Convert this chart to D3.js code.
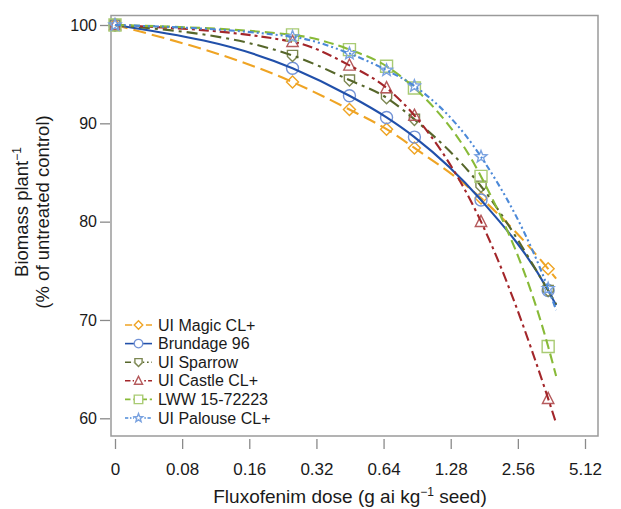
<!DOCTYPE html>
<html>
<head>
<meta charset="utf-8">
<script src="https://cdn.jsdelivr.net/npm/d3@7"></script>
<style>
  html, body { margin: 0; padding: 0; background: #fff; }
  svg { display: block; font-family: "Liberation Sans", Arial, sans-serif; }
</style>
</head>
<body>
<svg id="chart" width="621" height="509"></svg>
<script>
// Fluxofenim doses (g ai per kg seed); 0 is the untreated control
const doses = [0, 0.25, 0.45, 0.66, 0.88, 1.75, 3.5];
const curveEndDose = 3.8;

// Biomass per plant, % of untreated control
const magic    = [100, 94.2, 91.4, 89.4, 87.5, 82.4, 75.2];
const brundage = [100, 95.6, 92.8, 90.6, 88.6, 82.2, 73.0];
const sparrow  = [100, 96.9, 94.4, 92.6, 90.4, 83.6, 73.0];
const castle   = [100, 98.3, 95.9, 93.6, 90.8, 80.0, 62.0];
const lww      = [100, 99.0, 97.5, 95.8, 93.6, 84.6, 67.3];
const palouse  = [100, 98.8, 97.1, 95.4, 93.8, 86.6, 73.2];

// Fitted curve value at the end of each line
const curveEnds = [74.2, 71.5, 71.6, 59.5, 64.3, 71.0];

const names = ["UI Magic CL+", "Brundage 96", "UI Sparrow", "UI Castle CL+", "LWW 15-72223", "UI Palouse CL+"];

const xTicks = [0.04, 0.08, 0.16, 0.32, 0.64, 1.28, 2.56, 5.12];
const xTickLabels = ["0", "0.08", "0.16", "0.32", "0.64", "1.28", "2.56", "5.12"];
const yTicks = [60, 70, 80, 90, 100];

const styles = [
  { line: "#EFA424", mark: "#EFA424", dash: "13,6",            shape: "diamond" },
  { line: "#2150AA", mark: "#7393D6", dash: null,              shape: "circle" },
  { line: "#56662A", mark: "#7C8752", dash: "11,5,3,5",        shape: "shield" },
  { line: "#A3262A", mark: "#B55A5C", dash: "10,4,3,4",        shape: "triangle" },
  { line: "#88BA38", mark: "#A9CB73", dash: "10,5",            shape: "square" },
  { line: "#4C89D8", mark: "#7BA3E0", dash: "6,3,2,3,2,3",     shape: "star" }
];

const seriesValues = [magic, brundage, sparrow, castle, lww, palouse];
const series = names.map((name, i) => ({
  name,
  style: styles[i],
  points: doses.map((d, j) => ({ dose: d, value: seriesValues[i][j] })),
  end: { dose: curveEndDose, value: curveEnds[i] }
}));

const svg = d3.select("#chart");

const frame = { left: 111, right: 598, top: 15.5, bottom: 436 };

// log2 dose axis; the control (dose 0) sits at the first tick
const xLog = d3.scaleLog().base(2).domain([0.04, 5.12]).range([115, 585]);
const xPos = d => (d === 0 ? xLog(0.04) : xLog(d));
const y = d3.scaleLinear().domain([60, 100]).range([418.3, 25]);

// plot frame
svg.append("rect")
  .attr("x", frame.left).attr("y", frame.top)
  .attr("width", frame.right - frame.left).attr("height", frame.bottom - frame.top)
  .attr("fill", "none").attr("stroke", "#9a9a9a").attr("stroke-width", 1.5);

// x axis
const xAxis = svg.append("g")
  .attr("transform", `translate(0,${frame.bottom + 3})`)
  .call(d3.axisBottom(xLog).tickValues(xTicks)
    .tickFormat((d, i) => xTickLabels[i]).tickSize(10).tickPadding(14));
xAxis.select(".domain").remove();
xAxis.selectAll(".tick line").attr("stroke", "#8a8a8a").attr("stroke-width", 1.3);
xAxis.selectAll(".tick text").attr("fill", "#1a1a1a").style("font-size", "17px");

// y axis
const yAxis = svg.append("g")
  .attr("transform", `translate(${frame.left - 1},0)`)
  .call(d3.axisLeft(y).tickValues(yTicks).tickSize(10).tickPadding(3));
yAxis.select(".domain").remove();
yAxis.selectAll(".tick line").attr("stroke", "#8a8a8a").attr("stroke-width", 1.3);
yAxis.selectAll(".tick text").attr("fill", "#1a1a1a").style("font-size", "16px");

// axis titles
const xTitle = svg.append("text")
  .attr("x", 350).attr("y", 503)
  .attr("text-anchor", "middle").attr("fill", "#1a1a1a").style("font-size", "19px");
xTitle.append("tspan").text("Fluxofenim dose (g ai kg");
xTitle.append("tspan").attr("dy", -7).style("font-size", "12px").text("\u22121");
xTitle.append("tspan").attr("dy", 7).text(" seed)");

const yTitle = svg.append("g").attr("transform", "translate(0,212) rotate(-90)");
const yt1 = yTitle.append("text").attr("x", 0).attr("y", 28)
  .attr("text-anchor", "middle").attr("fill", "#1a1a1a").style("font-size", "18.5px");
yt1.append("tspan").text("Biomass  plant");
yt1.append("tspan").attr("dy", -7).style("font-size", "12px").text("\u22121");
yTitle.append("text").attr("x", 0).attr("y", 49)
  .attr("text-anchor", "middle").attr("fill", "#1a1a1a").style("font-size", "18.5px")
  .text("(% of untreated control)");

// marker shapes
function markerPath(shape, s) {
  const h = s / 2;
  switch (shape) {
    case "diamond": return `M0,${-h}L${h},0L0,${h}L${-h},0Z`;
    case "square": return `M${-h},${-h}H${h}V${h}H${-h}Z`;
    case "triangle": return `M0,${-h * 1.05}L${h * 0.95},${h * 0.8}L${-h * 0.95},${h * 0.8}Z`;
    case "shield": return `M${-h * 0.85},${-h * 0.85}H${h * 0.85}V${h * 0.15}L0,${h}L${-h * 0.85},${h * 0.15}Z`;
    case "star": {
      const pts = [];
      for (let k = 0; k < 10; k++) {
        const r = k % 2 === 0 ? h * 1.05 : h * 0.45;
        const a = -Math.PI / 2 + k * Math.PI / 5;
        pts.push([r * Math.cos(a), r * Math.sin(a)]);
      }
      return "M" + pts.map(p => p.join(",")).join("L") + "Z";
    }
    default: return null;
  }
}

function drawMarker(g, shape, color, cx, cy, size) {
  if (shape === "circle") {
    g.append("circle").attr("cx", cx).attr("cy", cy).attr("r", size / 2)
      .attr("fill", "none").attr("stroke", color).attr("stroke-width", 1.4);
  } else {
    g.append("path").attr("d", markerPath(shape, size))
      .attr("transform", `translate(${cx},${cy})`)
      .attr("fill", "none").attr("stroke", color).attr("stroke-width", 1.4);
  }
}

const line = d3.line()
  .x(p => xPos(p.dose))
  .y(p => y(p.value))
  .curve(d3.curveMonotoneX);

const plot = svg.append("g");
series.forEach(s => {
  const g = plot.append("g");
  s.points.forEach(p => drawMarker(g, s.style.shape, s.style.mark, xPos(p.dose), y(p.value), 12));
  g.append("path")
    .datum(s.points.concat([s.end]))
    .attr("d", line)
    .attr("fill", "none")
    .attr("stroke", s.style.line)
    .attr("stroke-width", 2.1)
    .attr("stroke-dasharray", s.style.dash);
});

// legend
const legend = svg.append("g");
series.forEach((s, i) => {
  const cy = 325 + i * 18.6;
  const g = legend.append("g");
  g.append("line")
    .attr("x1", 125).attr("x2", 152).attr("y1", cy).attr("y2", cy)
    .attr("stroke", s.style.line).attr("stroke-width", 1.6)
    .attr("stroke-dasharray", s.style.dash ? s.style.dash.split(",").map(v => Math.max(1.5, v * 0.55)).join(",") : null);
  g.append("rect").attr("x", 134).attr("y", cy - 4.5).attr("width", 9).attr("height", 9).attr("fill", "#fff");
  drawMarker(g, s.style.shape, s.style.mark, 138.5, cy, 8.5);
  g.append("text")
    .attr("x", 158).attr("y", cy).attr("dy", "0.35em")
    .attr("fill", "#1a1a1a").style("font-size", "16px")
    .text(s.name);
});
</script>
</body>
</html>
